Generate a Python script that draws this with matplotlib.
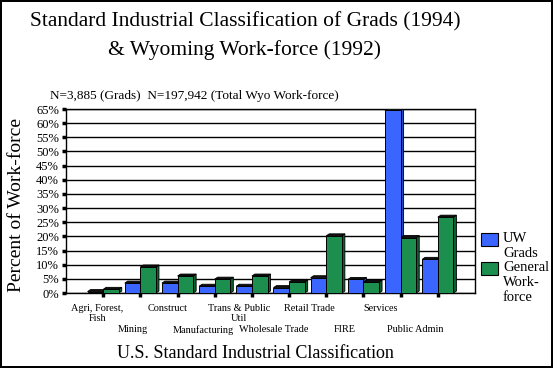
import numpy as np
import matplotlib
matplotlib.use("Agg")
import matplotlib.pyplot as plt
from matplotlib.patches import Polygon, Rectangle
from matplotlib.transforms import ScaledTranslation

plt.rcParams['font.family'] = ['Liberation Serif', 'DejaVu Serif']

categories = ["Agri, Forest,\nFish", "Mining", "Construct", "Manufacturing",
              "Trans & Public\nUtil", "Wholesale Trade", "Retail Trade", "FIRE",
              "Services", "Public Admin"]
grads = [0.5, 3.5, 3.5, 2.4, 2.4, 1.9, 5.4, 4.8, 64.5, 11.9]
workforce = [1.3, 9.2, 6.0, 4.9, 6.0, 3.9, 20.2, 3.9, 19.6, 26.8]
series_names = ["UW\nGrads", "General\nWork-\nforce"]
colors = ["#3a66ff", "#1c8f4f"]
side_colors = ["#2746b8", "#0f5e32"]
yticks = np.arange(0, 66, 5)

fig = plt.figure(figsize=(5.53, 3.68), dpi=100)
fig.patch.set_edgecolor("black")
fig.patch.set_linewidth(1.5)
ax = fig.add_axes([66 / 553, 1 - 293 / 368, 409 / 553, 184 / 368])

x = np.arange(len(categories))
w = 0.42
b1 = ax.bar(x - w, grads, w, align="edge", color=colors[0], edgecolor="black", linewidth=0.7, zorder=3)
b2 = ax.bar(x, workforce, w, align="edge", color=colors[1], edgecolor="black", linewidth=0.7, zorder=3)

# fake 3D depth on each bar
dx, dy = 0.08, 0.7
for bars, sc in [(b1, side_colors[0]), (b2, side_colors[1])]:
    for r in bars:
        x0, h, bw = r.get_x(), r.get_height(), r.get_width()
        x1 = x0 + bw
        side = Polygon([(x1, 0), (x1 + dx, dy), (x1 + dx, h + dy), (x1, h)],
                       closed=True, facecolor=sc, edgecolor="black", linewidth=0.6, zorder=2.9)
        top = Polygon([(x0, h), (x0 + dx, h + dy), (x1 + dx, h + dy), (x1, h)],
                      closed=True, facecolor="#111111", edgecolor="black", linewidth=0.6, zorder=2.9)
        ax.add_patch(side)
        ax.add_patch(top)

ax.set_xlim(-1, len(categories))
ax.set_ylim(0, 65)
ax.set_yticks(yticks)
ax.set_yticklabels([f"{v}%" for v in yticks], fontsize=9)
ax.yaxis.grid(True, color="black", linewidth=1, zorder=1)
ax.set_axisbelow(True)
for s in ax.spines.values():
    s.set_linewidth(1)
ax.tick_params(axis="y", length=3, width=2.5, pad=2)

ax.set_xticks(x)
ax.set_xticklabels(categories, fontsize=7.4, linespacing=1.15)
ax.tick_params(axis="x", length=3, width=2.5, pad=5)
for i, lbl in enumerate(ax.get_xticklabels()):
    shift = ScaledTranslation((-6 - 1.8 * i) / 100, (-21 if i % 2 else 0) / 100, fig.dpi_scale_trans)
    lbl.set_transform(lbl.get_transform() + shift)
    lbl.set_verticalalignment("top")

ax.set_ylabel("Percent of Work-force", fontsize=14, labelpad=4)
ax.yaxis.set_label_coords(-0.1, 0.48)

fig.text(255 / 553, 1 - 353 / 368, "U.S. Standard Industrial Classification",
         fontsize=13, ha="center", va="center")
fig.text(245 / 553, 1 - 36 / 368,
         "Standard Industrial Classification of Grads (1994)\n& Wyoming Work-force (1992)",
         fontsize=15.5, ha="center", va="center", linespacing=1.55)
fig.text(50 / 553, 1 - 96 / 368, "N=3,885 (Grads)  N=197,942 (Total Wyo Work-force)",
         fontsize=9.5, ha="left", va="center")

# legend
for j, (name, col) in enumerate(zip(series_names, colors)):
    y_top = [233, 262][j]
    fig.patches.append(Rectangle((481 / 553, 1 - (y_top + 13) / 368), 17 / 553, 13 / 368,
                                 transform=fig.transFigure, facecolor=col,
                                 edgecolor="black", linewidth=0.8))
    fig.text(503 / 553, 1 - (y_top - 1) / 368, name, fontsize=10.5, ha="left", va="top",
             linespacing=1.2, family="Liberation Serif")

fig.savefig("out.png", dpi=100)
